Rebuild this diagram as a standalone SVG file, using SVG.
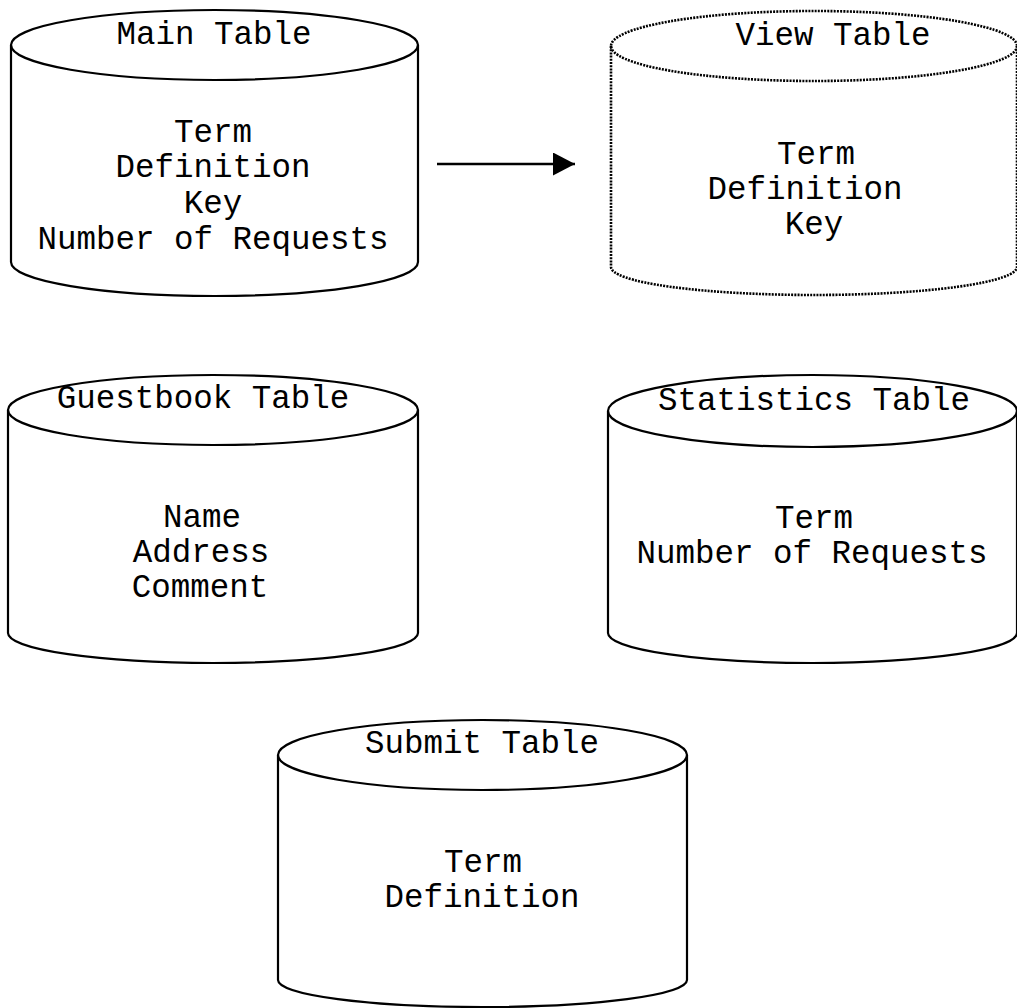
<svg xmlns="http://www.w3.org/2000/svg" width="1017" height="1008" viewBox="0 0 1017 1008">
  <style>
    .shape { fill: none; stroke: #000; stroke-width: 2.2; }
    .dotted { stroke-width: 2.6; stroke-dasharray: 2 1.2; }
    .label { font-family: "Liberation Mono", "Courier New", monospace; font-size: 32.5px; fill: #000; text-anchor: middle; }
    .conn { stroke: #000; stroke-width: 2.5; fill: none; }
  </style>
  <defs>
    <marker id="arrowhead" markerWidth="24" markerHeight="24" refX="22" refY="11.5" orient="auto" markerUnits="userSpaceOnUse">
      <path d="M0,0 L22,11.5 L0,23 Z" fill="#000"/>
    </marker>
  </defs>
  <rect width="1017" height="1008" fill="#fff"/>

  <!-- Main Table -->
  <g id="main-table">
    <ellipse class="shape" cx="214.5" cy="45" rx="203.5" ry="35"/>
    <path class="shape" d="M11,45 V262 A203.5,34 0 0 0 418,262 V45"/>
    <text class="label" x="214" y="44">Main Table</text>
    <text class="label" x="213" y="142">Term</text>
    <text class="label" x="213" y="177">Definition</text>
    <text class="label" x="213" y="213">Key</text>
    <text class="label" x="213" y="249">Number of Requests</text>
  </g>

  <!-- View Table (dotted outline) -->
  <g id="view-table">
    <ellipse class="shape dotted" cx="814" cy="46" rx="203" ry="35"/>
    <path class="shape dotted" d="M611,46 V267 A203,28 0 0 0 1017,267 V46"/>
    <text class="label" x="833" y="45">View Table</text>
    <text class="label" x="816" y="164">Term</text>
    <text class="label" x="805" y="199">Definition</text>
    <text class="label" x="814" y="234">Key</text>
  </g>

  <!-- Guestbook Table -->
  <g id="guestbook-table">
    <ellipse class="shape" cx="213" cy="410" rx="205" ry="35"/>
    <path class="shape" d="M8,410 V633 A205,30 0 0 0 418,633 V410"/>
    <text class="label" x="203" y="408">Guestbook Table</text>
    <text class="label" x="202" y="527">Name</text>
    <text class="label" x="201" y="562">Address</text>
    <text class="label" x="200" y="597">Comment</text>
  </g>

  <!-- Statistics Table -->
  <g id="statistics-table">
    <ellipse class="shape" cx="812.5" cy="411" rx="204.5" ry="36"/>
    <path class="shape" d="M608,411 V633 A204.5,30 0 0 0 1017,633 V411"/>
    <text class="label" x="814" y="410">Statistics Table</text>
    <text class="label" x="814" y="528">Term</text>
    <text class="label" x="812" y="563">Number of Requests</text>
  </g>

  <!-- Submit Table -->
  <g id="submit-table">
    <ellipse class="shape" cx="482.5" cy="755" rx="204.5" ry="35"/>
    <path class="shape" d="M278,755 V980 A204.5,27 0 0 0 687,980 V755"/>
    <text class="label" x="482" y="753">Submit Table</text>
    <text class="label" x="483" y="872">Term</text>
    <text class="label" x="482" y="907">Definition</text>
  </g>

  <!-- Connectors -->
  <g id="connectors">
    <line class="conn" x1="437" y1="164" x2="575" y2="164" marker-end="url(#arrowhead)"/>
  </g>
</svg>
